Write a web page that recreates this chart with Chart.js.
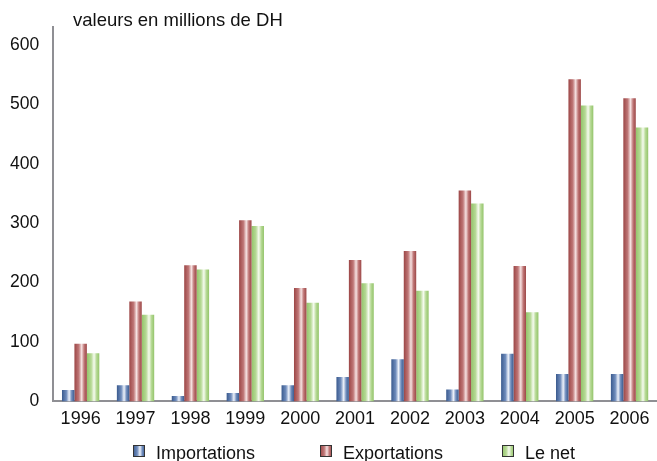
<!DOCTYPE html>
<html lang="fr">
<head>
<meta charset="utf-8">
<title>Importations / Exportations</title>
<script src="https://cdn.jsdelivr.net/npm/chart.js@4.4.1/dist/chart.umd.min.js"></script>
<style>
  html, body { margin: 0; padding: 0; background: #fff; }
  #wrap { position: relative; width: 657px; height: 461px; }
</style>
</head>
<body>
<div id="wrap"><canvas id="tradeChart"></canvas></div>
<script>
// Data (millions de DH)
const years = ['1996', '1997', '1998', '1999', '2000', '2001', '2002', '2003', '2004', '2005', '2006'];
const importations = [19, 27, 9, 14, 27, 41, 71, 20, 80, 46, 46];
const exportations = [97, 168, 229, 305, 191, 238, 253, 355, 228, 542, 510];
const leNet = [81, 146, 222, 295, 166, 199, 186, 333, 150, 498, 461];
const yTicks = [0, 100, 200, 300, 400, 500, 600];

const FONT = "'Liberation Sans', Arial, Helvetica, sans-serif";
const AXIS_COLOR = '#8f8f94';

// colour stops for the "cylinder" look: edge, mid, highlight
const palettes = [
    { label: 'Importations', edge: '#3a5a8e', mid: '#6f8cbc', light: '#eef2fa' },
    { label: 'Exportations', edge: '#9c4646', mid: '#bf7777', light: '#f6e2e2' },
    { label: 'Le net', edge: '#93c46a', mid: '#b6d995', light: '#f6fbef' }
];

function makeGradient(ctx, x0, x1, p) {
    const g = ctx.createLinearGradient(x0, 0, x1, 0);
    g.addColorStop(0, p.edge);
    g.addColorStop(0.35, p.mid);
    g.addColorStop(0.58, p.light);
    g.addColorStop(0.78, p.mid);
    g.addColorStop(1, p.edge);
    return g;
}

// Paint each bar with its own horizontal gradient
const barShading = {
    id: 'barShading',
    beforeDatasetsDraw(chart) {
        const ctx = chart.ctx;
        chart.data.datasets.forEach((ds, i) => {
            const meta = chart.getDatasetMeta(i);
            meta.data.forEach(bar => {
                const left = bar.x - bar.width / 2;
                bar.options.backgroundColor = makeGradient(ctx, left, left + bar.width, palettes[i]);
            });
        });
    }
};

// Title text above the plot, and legend at the bottom
const extras = {
    id: 'extras',
    afterDraw(chart) {
        const ctx = chart.ctx;
        ctx.save();
        ctx.fillStyle = '#111';
        ctx.font = '18.5px ' + FONT;
        ctx.textBaseline = 'alphabetic';
        ctx.textAlign = 'left';
        ctx.fillText('valeurs en millions de DH', 73, 26);

        ctx.font = '18px ' + FONT;
        const boxX = [133, 320, 502];
        const boxY = 445, boxW = 12, boxH = 12;
        palettes.forEach((p, i) => {
            const x = boxX[i];
            ctx.fillStyle = makeGradient(ctx, x, x + boxW, p);
            ctx.fillRect(x, boxY, boxW, boxH);
            ctx.strokeStyle = '#333';
            ctx.lineWidth = 1;
            ctx.strokeRect(x + 0.5, boxY + 0.5, boxW - 1, boxH - 1);
            ctx.fillStyle = '#111';
            ctx.fillText(p.label, x + boxW + 11, 459);
        });
        ctx.restore();
    }
};

const ctx = document.getElementById('tradeChart').getContext('2d');
const tradeChart = new Chart(ctx, {
    type: 'bar',
    data: {
        labels: years,
        datasets: [
            { label: 'Importations', data: importations, backgroundColor: () => palettes[0].edge },
            { label: 'Exportations', data: exportations, backgroundColor: () => palettes[1].edge },
            { label: 'Le net', data: leNet, backgroundColor: () => palettes[2].edge }
        ]
    },
    options: {
        responsive: true,
        maintainAspectRatio: false,
        animation: false,
        events: [],
        layout: {
            padding: { top: 27, left: -4, right: 0, bottom: 24 }
        },
        datasets: {
            bar: {
                barPercentage: 1,
                categoryPercentage: 0.68,
                borderWidth: 0
            }
        },
        plugins: {
            legend: { display: false },
            tooltip: { enabled: false },
            title: { display: false }
        },
        scales: {
            x: {
                grid: { display: false, drawTicks: false },
                border: { display: true, color: AXIS_COLOR, width: 2 },
                ticks: {
                    color: '#111',
                    padding: 7,
                    font: { family: FONT, size: 18 }
                }
            },
            y: {
                min: 0,
                max: 630,
                grid: { display: false, drawTicks: false },
                border: { display: true, color: AXIS_COLOR, width: 2 },
                afterBuildTicks(scale) {
                    scale.ticks = yTicks.map(v => ({ value: v }));
                },
                ticks: {
                    color: '#111',
                    padding: 14,
                    font: { family: FONT, size: 17.5 }
                }
            }
        }
    },
    plugins: [barShading, extras]
});
</script>
</body>
</html>
